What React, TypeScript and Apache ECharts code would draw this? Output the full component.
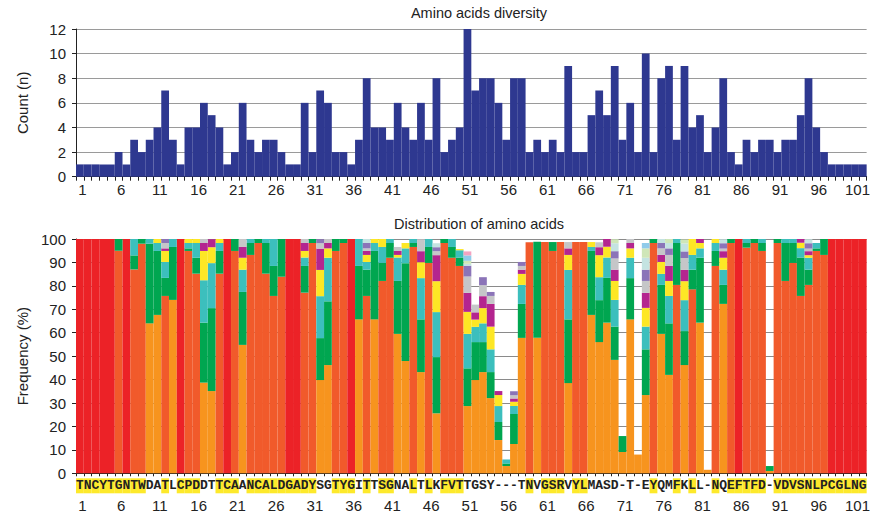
import React, { useEffect, useRef } from "react";
import * as echarts from "echarts";

// ---- data ----
const positions: string[] = Array.from({ length: 102 }, (_, i) => String(i + 1));

const sequence: string[] =
  "TNCYTGNTWDATLCPDDTTCAANCALDGADYSGTYGITTSGNALTLKFVTTGSY---TNVGSRVYLMASD-T-EYQMFKLL-NQEFTFD-VDVSNLPCGLNG".split("");

// Top chart: number of different amino acids per position
const diversityCount: number[] = [
  1, 1, 1, 1, 1, 2, 1, 3, 2, 3,
  4, 7, 3, 1, 4, 4, 6, 5, 4, 1,
  2, 6, 3, 2, 3, 3, 2, 1, 1, 6,
  2, 7, 6, 2, 2, 1, 3, 8, 4, 4,
  3, 6, 4, 3, 6, 3, 8, 2, 3, 4,
  12, 7, 8, 8, 6, 3, 8, 8, 2, 3,
  2, 3, 2, 9, 2, 2, 5, 7, 5, 9,
  3, 6, 2, 10, 2, 8, 9, 3, 9, 4,
  5, 2, 4, 8, 2, 1, 3, 2, 3, 3,
  2, 3, 3, 5, 8, 4, 2, 1, 1, 1,
  1, 1,
];

// Bottom chart: frequency (%) of amino acids, by rank at each position
const rank1: number[] = [
  100, 100, 100, 100, 100, 95, 100, 87, 98, 64,
  67.6, 75.7, 74, 100, 94.9, 85.2, 38.7, 35.1, 85.2, 100,
  94.9, 54.8, 93.2, 98.3, 85.2, 75.7, 83.9, 100, 100, 77.1,
  98.3, 39.8, 46.2, 94.9, 98.3, 100, 65.7, 75.7, 65.7, 82.1,
  92, 59.5, 47.9, 96.6, 43.2, 89.8, 25.6, 98.3, 92, 88.5,
  28.7, 39.8, 43.2, 32.1, 14.2, 3.1, 12.5, 57.8, 98.6, 57.8,
  98.7, 94.9, 98.7, 38.5, 98.7, 98.7, 67.6, 56, 64.3, 48.4,
  9.1, 65.7, 8, 33.4, 98.3, 59.5, 42, 80.4, 46.2, 78.5,
  64.3, 1.5, 88.5, 72.3, 98.3, 100, 96.3, 98.3, 94.9, 1,
  98.3, 82.1, 89.8, 75.7, 80.4, 94.9, 93.2, 100, 100, 100,
  100, 100,
];
const rank2: number[] = [
  0, 0, 0, 0, 0, 5, 0, 6, 2, 34,
  27.3, 7.7, 22.6, 0, 1.1, 6.8, 25.6, 35.4, 9.7, 0,
  5.1, 22.6, 5.1, 1.7, 13.1, 12.8, 16.1, 0, 0, 11.4,
  1.7, 17.9, 27.2, 5.1, 1.7, 0, 22.8, 11.2, 29.2, 7.7,
  6.3, 22.6, 41.8, 1.7, 22.5, 6.8, 24, 1.7, 4.6, 3.6,
  16.1, 16.2, 12.8, 11.1, 7.7, 1.1, 12.8, 14.5, 0, 41,
  0, 3.8, 0, 27.2, 0, 0, 27.3, 17.9, 19.1, 14.2,
  6.8, 17.6, 0, 19.5, 1.7, 20.9, 22, 17.9, 14.5, 8.4,
  27.7, 0, 6.4, 8.1, 1.7, 0, 2, 1.7, 3.4, 2.1,
  1.7, 16.2, 8.5, 16.4, 6.5, 1.1, 6.8, 0, 0, 0,
  0, 0,
];
const rank3: number[] = [
  0, 0, 0, 0, 0, 0, 0, 7, 0, 2,
  3.4, 6.8, 3.4, 0, 2.3, 6.3, 18.1, 19.2, 3.4, 0,
  0, 9.5, 1.7, 0, 1.7, 11.5, 0, 0, 0, 3.6,
  0, 17.9, 18.6, 0, 0, 0, 11.5, 3.3, 3.4, 6.8,
  1.7, 10, 6.3, 1.7, 17.6, 3.4, 19.2, 0, 3.4, 3.1,
  14.7, 6.5, 8, 9.7, 6.8, 1.7, 3.4, 8.1, 0, 0,
  0, 0, 0, 21.1, 0, 0, 1.7, 9.8, 8.7, 11.4,
  0, 8.7, 0, 9.7, 0, 4.7, 11.7, 1.7, 13.2, 6.3,
  4, 0, 3.4, 6.5, 0, 0, 1.7, 0, 1.7, 0,
  0, 1.7, 1.7, 4, 5.1, 2.3, 0, 0, 0, 0,
  0, 0,
];
const rank4: number[] = [
  0, 0, 0, 0, 0, 0, 0, 0, 0, 0,
  1.7, 4.7, 0, 0, 1.7, 1.7, 12.5, 6.8, 1.7, 0,
  0, 5.1, 0, 0, 0, 0, 0, 0, 0, 2.8,
  0, 11.2, 4, 0, 0, 0, 0, 3, 1.7, 3.4,
  0, 1.1, 2.3, 0, 6.8, 0, 13.2, 0, 0, 0.5,
  9.4, 3.1, 6.5, 9.7, 4.7, 0, 1.8, 4.7, 0, 0,
  0, 0, 0, 6.4, 0, 0, 2.1, 9.4, 4.6, 8.1,
  0, 4, 0, 8, 0, 5.1, 6.4, 0, 8.1, 6.8,
  2.3, 0, 1.7, 5.1, 0, 0, 0, 0, 0, 0,
  0, 0, 0, 2.3, 1.1, 0, 0, 0, 0, 0,
  0, 0,
];
const rank5: number[] = [
  0, 0, 0, 0, 0, 0, 0, 0, 0, 0,
  0, 1.1, 0, 0, 0, 0, 3.4, 3.4, 0, 0,
  0, 4.6, 0, 0, 0, 0, 0, 0, 0, 3.4,
  0, 9.1, 2.3, 0, 0, 0, 0, 1.7, 0, 0,
  0, 1.7, 0, 0, 4.7, 0, 11.1, 0, 0, 0,
  8.1, 3.1, 5.1, 9.7, 1.7, 0, 1.4, 1.8, 0, 0,
  0, 0, 0, 2.8, 0, 0, 0, 3.4, 3.4, 4.8,
  0, 2.3, 0, 6.4, 0, 3, 6.4, 0, 4.8, 0,
  1.7, 0, 0, 2.8, 0, 0, 0, 0, 0, 0,
  0, 0, 0, 1.7, 1.7, 0, 0, 0, 0, 0,
  0, 0,
];
const rank6: number[] = [
  0, 0, 0, 0, 0, 0, 0, 0, 0, 0,
  0, 2.3, 0, 0, 0, 0, 1.7, 0, 0, 0,
  0, 3.4, 0, 0, 0, 0, 0, 0, 0, 1.7,
  0, 2.3, 1.7, 0, 0, 0, 0, 1.1, 0, 0,
  0, 1.7, 0, 0, 5.1, 0, 1.7, 0, 0, 0,
  7, 3.3, 4.7, 3.4, 0, 0, 1.4, 1.6, 0, 0,
  0, 0, 0, 2.7, 0, 0, 0, 2.1, 0, 4.8,
  0, 1.7, 0, 5.1, 0, 2.8, 4.7, 0, 5.1, 0,
  0, 0, 0, 1.1, 0, 0, 0, 0, 0, 0,
  0, 0, 0, 0, 1.1, 0, 0, 0, 0, 0,
  0, 0,
];
const rank7: number[] = [
  0, 0, 0, 0, 0, 0, 0, 0, 0, 0,
  0, 1.7, 0, 0, 0, 0, 0, 0, 0, 0,
  0, 0, 0, 0, 0, 0, 0, 0, 0, 0,
  0, 1.7, 0, 0, 0, 0, 0, 2.3, 0, 0,
  0, 0, 0, 0, 0, 0, 1.7, 0, 0, 0,
  4.6, 0, 3.4, 1.7, 0, 0, 1.7, 1.7, 0, 0,
  0, 0, 0, 0, 0, 0, 0, 0, 0, 3.1,
  0, 0, 0, 4.8, 0, 2.3, 2.8, 0, 2.8, 0,
  0, 0, 0, 2.3, 0, 0, 0, 0, 0, 0,
  0, 0, 0, 0, 2.3, 0, 0, 0, 0, 0,
  0, 0,
];
const rank8: number[] = [
  0, 0, 0, 0, 0, 0, 0, 0, 0, 0,
  0, 0, 0, 0, 0, 0, 0, 0, 0, 0,
  0, 0, 0, 0, 0, 0, 0, 0, 0, 0,
  0, 0, 0, 0, 0, 0, 0, 1.7, 0, 0,
  0, 0, 0, 0, 0, 0, 1.7, 0, 0, 0,
  0.8, 0, 0, 0, 0, 0, 0, 0, 0, 0,
  0, 0, 0, 0, 0, 0, 0, 0, 0, 3.4,
  0, 0, 0, 5.1, 0, 1.7, 2.3, 0, 3.4, 0,
  0, 0, 0, 1.7, 0, 0, 0, 0, 0, 0,
  0, 0, 0, 0, 1.7, 0, 0, 0, 0, 0,
  0, 0,
];
const rank9: number[] = [
  0, 0, 0, 0, 0, 0, 0, 0, 0, 0,
  0, 0, 0, 0, 0, 0, 0, 0, 0, 0,
  0, 0, 0, 0, 0, 0, 0, 0, 0, 0,
  0, 0, 0, 0, 0, 0, 0, 0, 0, 0,
  0, 0, 0, 0, 0, 0, 0, 0, 0, 0,
  1.3, 0, 0, 0, 0, 0, 0, 0, 0, 0,
  0, 0, 0, 0, 0, 0, 0, 0, 0, 1.7,
  0, 0, 0, 4, 0, 0, 1.7, 0, 1.7, 0,
  0, 0, 0, 0, 0, 0, 0, 0, 0, 0,
  0, 0, 0, 0, 0, 0, 0, 0, 0, 0,
  0, 0,
];
const rank10: number[] = [
  0, 0, 0, 0, 0, 0, 0, 0, 0, 0,
  0, 0, 0, 0, 0, 0, 0, 0, 0, 0,
  0, 0, 0, 0, 0, 0, 0, 0, 0, 0,
  0, 0, 0, 0, 0, 0, 0, 0, 0, 0,
  0, 0, 0, 0, 0, 0, 0, 0, 0, 0,
  2.3, 0, 0, 0, 0, 0, 0, 0, 0, 0,
  0, 0, 0, 0, 0, 0, 0, 0, 0, 0,
  0, 0, 0, 2.3, 0, 0, 0, 0, 0, 0,
  0, 0, 0, 0, 0, 0, 0, 0, 0, 0,
  0, 0, 0, 0, 0, 0, 0, 0, 0, 0,
  0, 0,
];
const rank11: number[] = [
  0, 0, 0, 0, 0, 0, 0, 0, 0, 0,
  0, 0, 0, 0, 0, 0, 0, 0, 0, 0,
  0, 0, 0, 0, 0, 0, 0, 0, 0, 0,
  0, 0, 0, 0, 0, 0, 0, 0, 0, 0,
  0, 0, 0, 0, 0, 0, 0, 0, 0, 0,
  1.7, 0, 0, 0, 0, 0, 0, 0, 0, 0,
  0, 0, 0, 0, 0, 0, 0, 0, 0, 0,
  0, 0, 0, 0, 0, 0, 0, 0, 0, 0,
  0, 0, 0, 0, 0, 0, 0, 0, 0, 0,
  0, 0, 0, 0, 0, 0, 0, 0, 0, 0,
  0, 0,
];

const topYTicks = { min: 0, max: 12, interval: 2 };
const bottomYTicks = { min: 0, max: 100, interval: 10 };

// ---- styles ----
const C_RED = "#ec2227";
const C_ORANGERED = "#f15a2b";
const C_ORANGE = "#f7941e";
const rankColors = [
  "#00a650", // 2 green
  "#3cbfbd", // 3 teal
  "#fde725", // 4 yellow
  "#b4258f", // 5 magenta
  "#c5c6c8", // 6 gray
  "#8b74b8", // 7 lavender
  "#c4e3e1", // 8 light cyan
  "#cfe6b8", // 9 light green
  "#8fcbea", // 10 light blue
  "#f3a3c1", // 11 pink
];
const SANS = "'Liberation Sans', Arial, Helvetica, sans-serif";
const MONO = "'Liberation Mono', 'Courier New', monospace";

function baseColor(v: number): string {
  if (v >= 99.95) return C_RED;
  if (v >= 75) return C_ORANGERED;
  return C_ORANGE;
}

export default function App() {
  const ref = useRef<HTMLDivElement>(null);

  useEffect(() => {
    if (!ref.current) return;
    const chart = echarts.init(ref.current, undefined, { renderer: "svg" });

    const upper = [rank2, rank3, rank4, rank5, rank6, rank7, rank8, rank9, rank10, rank11];

    const axisLineStyle = { lineStyle: { color: "#222", width: 1 } };

    const option: any = {
      animation: false,
      backgroundColor: "#ffffff",
      textStyle: { fontFamily: SANS },
      title: [
        {
          text: "Amino acids diversity",
          left: 474,
          top: 0,
          textAlign: "center",
          textStyle: { fontFamily: SANS, fontSize: 14.5, fontWeight: "normal", color: "#222" },
        },
        {
          text: "Distribution of amino acids",
          left: 474,
          top: 211,
          textAlign: "center",
          textStyle: { fontFamily: SANS, fontSize: 14.5, fontWeight: "normal", color: "#222" },
        },
      ],
      grid: [
        { left: 76, right: 1, top: 29, height: 147.7, containLabel: false },
        { left: 76, right: 1, top: 239, height: 234.3, containLabel: false },
      ],
      xAxis: [
        {
          type: "category",
          gridIndex: 0,
          data: positions,
          axisLine: axisLineStyle,
          axisTick: { show: true, interval: 0, length: 4, lineStyle: { color: "#222" } },
          axisLabel: {
            interval: 4,
            margin: 5,
            fontSize: 15,
            color: "#222",
            fontFamily: SANS,
            padding: [0, 0, 0, 5],
          },
          splitLine: { show: false },
        },
        {
          type: "category",
          gridIndex: 1,
          data: positions,
          axisLine: axisLineStyle,
          axisTick: { show: true, interval: 0, length: 3, lineStyle: { color: "#222" } },
          axisLabel: {
            interval: 0,
            margin: 5,
            formatter: (_v: string, idx: number) => {
              const letter = sequence[idx];
              const hl = letter !== "-" && rank1[idx] >= 75;
              return hl ? `{h|${letter}}` : `{n|${letter}}`;
            },
            rich: {
              h: {
                backgroundColor: "#fde92b",
                width: 7.8,
                height: 15,
                lineHeight: 15,
                align: "center",
                fontFamily: MONO,
                fontWeight: "bold",
                fontSize: 13,
                color: "#222",
              },
              n: {
                width: 7.8,
                height: 15,
                lineHeight: 15,
                align: "center",
                fontFamily: MONO,
                fontWeight: "bold",
                fontSize: 13,
                color: "#222",
              },
            },
          },
          splitLine: { show: false },
        },
        {
          type: "category",
          gridIndex: 1,
          position: "bottom",
          offset: 20,
          data: positions,
          axisLine: { show: false },
          axisTick: { show: false },
          axisLabel: {
            interval: 4,
            margin: 5,
            fontSize: 15,
            color: "#222",
            fontFamily: SANS,
            padding: [0, 0, 0, 5],
          },
          splitLine: { show: false },
        },
      ],
      yAxis: [
        {
          type: "value",
          gridIndex: 0,
          ...topYTicks,
          name: "Count (n)",
          nameLocation: "middle",
          nameGap: 46,
          nameRotate: 90,
          nameTextStyle: { fontFamily: SANS, fontSize: 15, color: "#222" },
          axisLine: { show: true, ...axisLineStyle },
          axisTick: { show: true, length: 4, lineStyle: { color: "#222" } },
          axisLabel: { margin: 10, fontSize: 15, color: "#222", fontFamily: SANS },
          splitLine: { show: true, lineStyle: { color: "#9a9a9a", width: 1 } },
        },
        {
          type: "value",
          gridIndex: 1,
          ...bottomYTicks,
          name: "Frequency (%)",
          nameLocation: "middle",
          nameGap: 46,
          nameRotate: 90,
          nameTextStyle: { fontFamily: SANS, fontSize: 15, color: "#222" },
          axisLine: { show: true, ...axisLineStyle },
          axisTick: { show: true, length: 4, lineStyle: { color: "#222" } },
          axisLabel: { margin: 10, fontSize: 15, color: "#222", fontFamily: SANS },
          splitLine: { show: true, lineStyle: { color: "#8a8a8a", width: 1 } },
        },
      ],
      series: [
        {
          type: "bar",
          name: "Count",
          xAxisIndex: 0,
          yAxisIndex: 0,
          data: diversityCount,
          barCategoryGap: "0%",
          itemStyle: { color: "#2e3890" },
        },
        {
          type: "bar",
          name: "rank1",
          xAxisIndex: 1,
          yAxisIndex: 1,
          stack: "freq",
          data: rank1,
          barCategoryGap: "0%",
          itemStyle: { color: (p: any) => baseColor(p.value) },
        },
        ...upper.map((arr, i) => ({
          type: "bar",
          name: "rank" + (i + 2),
          xAxisIndex: 1,
          yAxisIndex: 1,
          stack: "freq",
          data: arr,
          barCategoryGap: "0%",
          itemStyle: { color: rankColors[i] },
        })),
      ],
    };

    chart.setOption(option);
    return () => chart.dispose();
  }, []);

  return (
    <div
      ref={ref}
      style={{ position: "fixed", left: 0, top: 0, width: 873, height: 515, background: "#fff" }}
    />
  );
}
